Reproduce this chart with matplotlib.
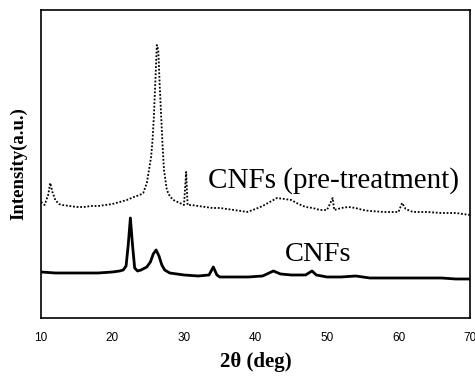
import matplotlib.pyplot as plt
import numpy as np

# XRD patterns (intensity in arbitrary units)
theta_pre = [10.0, 10.5, 11.0, 11.3, 11.6, 12.0, 12.5, 13, 14, 15, 16, 17, 18, 19, 20,
             21, 22, 23, 23.8, 24.3, 24.8, 25.1, 25.4, 25.6, 25.8, 26.0, 26.2, 26.4,
             26.6, 26.8, 27.0, 27.2, 27.6, 28.0, 28.5, 29.4, 30.0, 30.3, 30.5, 31, 32,
             33, 34, 35, 36, 37, 38, 38.8, 40, 41, 42, 43, 44, 45, 46, 47, 48, 49, 50,
             50.8, 51, 52, 53, 54, 55, 56, 58, 60, 60.5, 61, 62, 64, 66, 68, 70]
inten_pre = [116, 113, 123, 135, 126, 118, 114, 113, 112, 111, 111, 112, 112, 113, 114,
             116, 118, 121, 123, 125, 135, 148, 161, 178, 203, 238, 273, 268,
             233, 203, 173, 148, 128, 122, 118, 115, 113, 146, 113, 113, 112,
             111, 110, 110, 109, 108, 107, 106, 109, 112, 116, 120, 119, 118, 114, 111, 110, 108, 108,
             120, 108, 110, 111, 110, 108, 107, 106, 106, 115, 109, 106, 106, 105, 105, 103]

theta_cnf = [10, 12, 14, 16, 18, 20, 21, 21.5, 21.9, 22.2, 22.5, 22.8, 23.1, 23.5, 24,
             24.8, 25.3, 25.7, 26.1, 26.5, 26.9, 27.3, 28, 29, 30, 32, 33.5, 34.1, 34.6,
             35, 37, 39, 41, 42.5, 43.5, 45, 47, 47.9, 48.5, 50, 52, 54, 56, 58, 60, 62,
             64, 66, 68, 70]
inten_cnf = [46, 45, 45, 45, 45, 46, 47, 48, 52, 73, 100, 73, 50, 47, 48,
             51, 56, 64, 68, 62, 53, 48, 45, 44, 43, 42, 43, 51, 43,
             41, 41, 41, 42, 47, 44, 43, 43, 47, 43, 41, 41, 42, 40, 40, 40, 40,
             40, 40, 39, 39]

xticks = [10, 20, 30, 40, 50, 60, 70]

fig = plt.figure(figsize=(4.75, 3.76), dpi=100)
ax = fig.add_axes([0.0863, 0.1543, 0.9032, 0.8191])

ax.plot(theta_pre, inten_pre, color='black', lw=1.3, ls=(0, (1, 1)))
ax.plot(theta_cnf, inten_cnf, color='black', lw=2)

ax.text(33.4, 130, 'CNFs (pre-treatment)', family='Liberation Serif', fontsize=21)
ax.text(44.1, 57, 'CNFs', family='Liberation Serif', fontsize=20.5)

ax.set_xlim(10, 70)
ax.set_ylim(0, 308)
ax.set_xticks(xticks)
ax.set_xticklabels([str(t) for t in xticks], family='Liberation Sans', fontsize=8.5)
ax.set_yticks([])
ax.tick_params(axis='x', length=0, pad=10)

for s in ax.spines.values():
    s.set_linewidth(1.2)

ax.set_xlabel('2θ (deg)', family='Liberation Serif', fontweight='bold', fontsize=15, labelpad=6)
ax.set_ylabel('Intensity(a.u.)', family='Liberation Serif', fontweight='bold', fontsize=13.5, labelpad=10)

plt.savefig('out.png', dpi=100)
